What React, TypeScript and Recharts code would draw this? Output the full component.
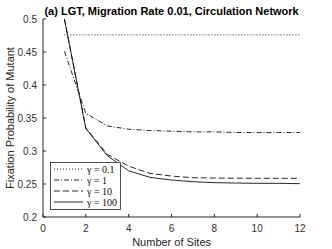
import React from 'react';
import { LineChart, Line, XAxis, YAxis, Legend } from 'recharts';

const sites = [1, 2, 3, 4, 5, 6, 7, 8, 9, 10, 11, 12];
const gamma01 = [0.476, 0.476, 0.476, 0.476, 0.476, 0.476, 0.476, 0.476, 0.476, 0.476, 0.476, 0.476];
const gamma1 = [0.451, 0.357, 0.338, 0.333, 0.331, 0.33, 0.329, 0.329, 0.328, 0.328, 0.328, 0.328];
const gamma10 = [0.5, 0.335, 0.295, 0.277, 0.266, 0.262, 0.2595, 0.259, 0.2588, 0.2587, 0.2586, 0.2586];
const gamma100 = [0.5, 0.334, 0.293, 0.27, 0.26, 0.256, 0.2535, 0.252, 0.2515, 0.251, 0.251, 0.2505];
const seriesNames = ['γ = 0.1', 'γ = 1', 'γ = 10', 'γ = 100'];
const xTicks = [0, 2, 4, 6, 8, 10, 12];
const yTicks = [0.2, 0.25, 0.3, 0.35, 0.4, 0.45, 0.5];

const data = sites.map((s, i) => ({
  x: s,
  g01: gamma01[i],
  g1: gamma1[i],
  g10: gamma10[i],
  g100: gamma100[i],
}));

const series = [
  { key: 'g01', name: seriesNames[0], dash: '1 2' },
  { key: 'g1', name: seriesNames[1], dash: '5 2 1 2' },
  { key: 'g10', name: seriesNames[2], dash: '6 3' },
  { key: 'g100', name: seriesNames[3], dash: undefined as string | undefined },
];

const LINE = '#111';
const AXIS = '#262626';
const SANS = '"Liberation Sans", Arial, sans-serif';

const renderLegend = () => (
  <svg width={71} height={48} style={{ display: 'block' }}>
    <rect x={0.5} y={0.5} width={70} height={47} fill="#fff" stroke={AXIS} strokeWidth={0.8} />
    {series.map((s, i) => (
      <g key={s.key}>
        <line
          x1={4}
          x2={33}
          y1={7 + i * 11}
          y2={7 + i * 11}
          stroke={LINE}
          strokeWidth={0.9}
          strokeDasharray={s.dash}
        />
        <text
          x={37}
          y={7 + i * 11}
          dominantBaseline="central"
          fontFamily='"Liberation Serif", "Times New Roman", serif'
          fontSize={10}
          fill="#111"
        >
          {s.name}
        </text>
      </g>
    ))}
  </svg>
);

export default function App() {
  return (
    <div style={{ position: 'absolute', left: 0, top: 0, width: 332, height: 249, background: '#fff' }}>
      <LineChart
        width={332}
        height={249}
        data={data}
        margin={{ top: 19, right: 32, bottom: 0, left: 0 }}
      >
        <XAxis
          dataKey="x"
          type="number"
          domain={[0, 12]}
          ticks={xTicks}
          height={32}
          stroke={AXIS}
          tickSize={-3}
          tickMargin={11}
          tick={{ fill: '#333', fontSize: 10, fontFamily: SANS }}
          allowDataOverflow
        />
        <YAxis
          type="number"
          domain={[0.2, 0.5]}
          ticks={yTicks}
          width={43}
          stroke={AXIS}
          tickSize={-3}
          tickMargin={9}
          tick={{ fill: '#333', fontSize: 10, fontFamily: SANS }}
          tickFormatter={(v: number) => String(v)}
          allowDataOverflow
        />
        {series.map((s) => (
          <Line
            key={s.key}
            dataKey={s.key}
            name={s.name}
            type="linear"
            stroke={LINE}
            strokeWidth={0.9}
            strokeDasharray={s.dash}
            dot={false}
            activeDot={false}
            isAnimationActive={false}
          />
        ))}
        <Legend
          layout="horizontal"
          align="center"
          verticalAlign="middle"
          content={renderLegend}
          wrapperStyle={{ position: 'absolute', left: 50, top: 162, width: 71, height: 48, bottom: 'auto', right: 'auto' }}
        />
        <text x={171.6} y={15} textAnchor="middle" fontFamily={SANS} fontSize={11} fontWeight="bold" fill="#000">
          (a) LGT, Migration Rate 0.01, Circulation Network
        </text>
        <text x={171.6} y={246} textAnchor="middle" fontFamily={SANS} fontSize={11} fill="#262626">
          Number of Sites
        </text>
        <text
          x={13.5}
          y={118}
          textAnchor="middle"
          transform="rotate(-90 13.5 118)"
          fontFamily={SANS}
          fontSize={11}
          fill="#262626"
        >
          Fixation Probability of Mutant
        </text>
      </LineChart>
    </div>
  );
}
